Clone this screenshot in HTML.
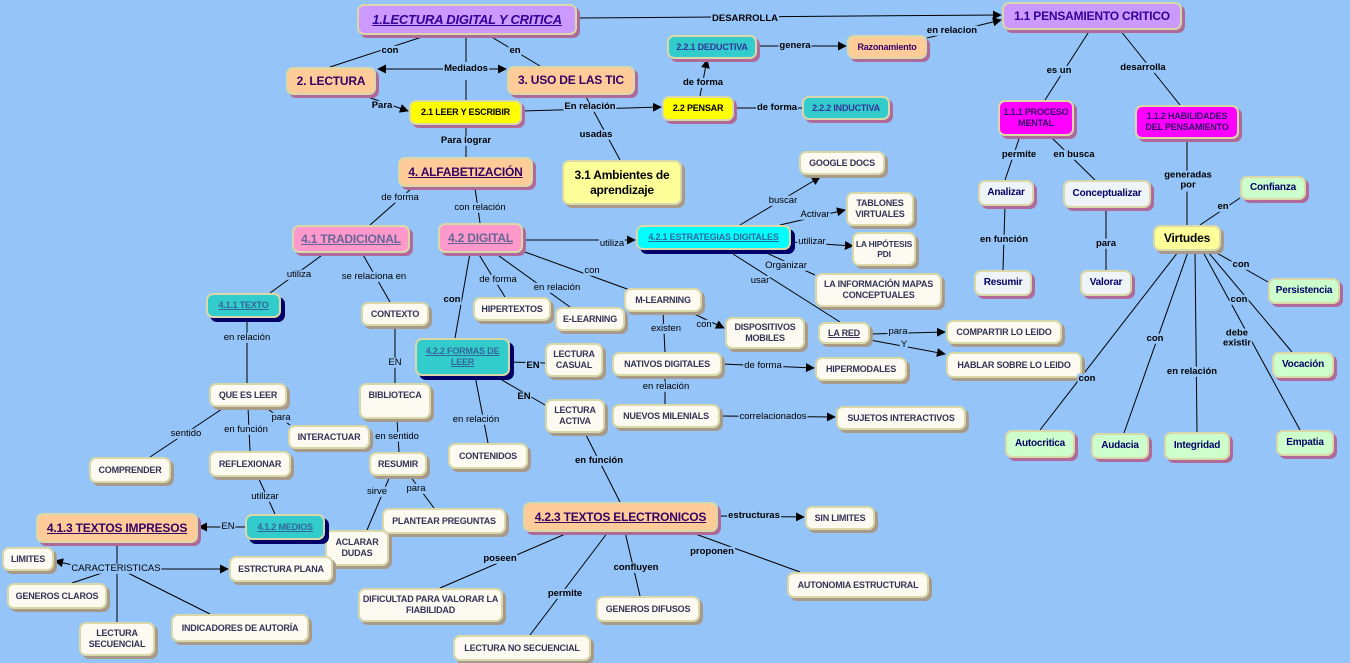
<!DOCTYPE html>
<html><head><meta charset="utf-8"><style>
*{margin:0;padding:0;box-sizing:border-box}
body{width:1350px;height:663px;background:#94c4f8;position:relative;overflow:hidden;font-family:"Liberation Sans",sans-serif}
svg{position:absolute;left:0;top:0}
.n{position:absolute;display:flex;align-items:center;justify-content:center;text-align:center;border:2px solid #d8d8a8;border-radius:7px;font-size:9px;font-weight:bold;color:#333355;line-height:1.2;background:#fdfaf2;box-shadow:3px 3px 0 #a89a8a;letter-spacing:-0.2px}
.pu{background:#cc99ff;color:#330099;box-shadow:3px 3px 0 #b06a9a;font-size:13px}
.pe{background:#ffcc99;color:#330066;box-shadow:3px 3px 0 #b06a9a;font-size:12px}
.ye{background:#ffff00;color:#000;box-shadow:3px 3px 0 #b06a9a}
.ly{background:#ffff99;color:#000;box-shadow:3px 3px 0 #a89a8a;font-size:12px}
.te{background:#33cccc;color:#333399;box-shadow:3px 3px 0 #b06a9a}
.td{background:#33cccc;color:#336699;box-shadow:4px 4px 0 #000066}
.cy{background:#00ffff;color:#336699;box-shadow:4px 4px 0 #000066}
.pk{background:#ff99cc;color:#666699;box-shadow:3px 3px 0 #b06a9a;font-size:12px}
.mg{background:#ff00ff;color:#330066;box-shadow:3px 3px 0 #b06a9a}
.gr{background:#ccffcc;color:#000066;box-shadow:3px 3px 0 #b06a9a;font-size:10px}
.wb{background:#eef4f8;color:#000066;box-shadow:3px 3px 0 #b06a9a;font-size:10px}
.u{text-decoration:underline}
.l{position:absolute;transform:translate(-50%,-50%);background:#94c4f8;font-size:9.5px;color:#000;white-space:nowrap;padding:0 1px;line-height:1.1;text-align:center}
.b{font-weight:bold}
</style></head><body>
<svg width="1350" height="663">
<defs><marker id="a" viewBox="0 0 10 10" refX="9" refY="5" markerWidth="9" markerHeight="9" orient="auto"><path d="M0,0L10,5L0,10z" fill="#000"/></marker></defs>
<g stroke="#000" stroke-width="1" fill="none">
<line x1="425" y1="36" x2="330" y2="67"/>
<line x1="466" y1="36" x2="466" y2="62"/><line x1="466" y1="80" x2="466" y2="100"/>
<line x1="466" y1="69" x2="378" y2="69" marker-end="url(#a)"/><line x1="466" y1="69" x2="506" y2="69" marker-end="url(#a)"/>
<line x1="490" y1="36" x2="540" y2="66"/>
<line x1="577" y1="18" x2="1001" y2="15" marker-end="url(#a)"/>
<line x1="365" y1="96" x2="408" y2="111" marker-end="url(#a)"/>
<line x1="522" y1="111" x2="661" y2="107" marker-end="url(#a)"/>
<line x1="585" y1="95" x2="620" y2="160"/>
<line x1="466" y1="125" x2="466" y2="157"/>
<line x1="700" y1="96" x2="707" y2="60" marker-end="url(#a)"/>
<line x1="757" y1="46" x2="846" y2="46" marker-end="url(#a)"/>
<line x1="927" y1="38" x2="1001" y2="20" marker-end="url(#a)"/>
<line x1="734" y1="108" x2="802" y2="108"/>
<line x1="1090" y1="30" x2="1045" y2="100"/><line x1="1120" y1="30" x2="1180" y2="105"/>
<line x1="1020" y1="136" x2="1005" y2="180"/><line x1="1050" y1="136" x2="1095" y2="180"/>
<line x1="1005" y1="206" x2="1003" y2="270"/><line x1="1106" y1="208" x2="1106" y2="270"/>
<line x1="1187" y1="139" x2="1187" y2="225"/>
<line x1="1200" y1="225" x2="1240" y2="198"/>
<line x1="1215" y1="252" x2="1268" y2="282"/><line x1="1208" y1="252" x2="1292" y2="352"/>
<line x1="1203" y1="252" x2="1300" y2="430"/><line x1="1195" y1="252" x2="1197" y2="432"/>
<line x1="1188" y1="252" x2="1124" y2="433"/><line x1="1178" y1="252" x2="1040" y2="430"/>
<line x1="412" y1="188" x2="370" y2="225"/><line x1="475" y1="188" x2="480" y2="223"/>
<line x1="523" y1="240" x2="635" y2="240" marker-end="url(#a)"/>
<line x1="740" y1="225" x2="820" y2="177" marker-end="url(#a)"/>
<line x1="780" y1="225" x2="845" y2="210" marker-end="url(#a)"/>
<line x1="791" y1="242" x2="853" y2="246" marker-end="url(#a)"/>
<line x1="760" y1="250" x2="815" y2="275"/>
<line x1="733" y1="254" x2="840" y2="322"/>
<line x1="870" y1="334" x2="945" y2="332" marker-end="url(#a)"/>
<line x1="870" y1="340" x2="945" y2="354" marker-end="url(#a)"/>
<line x1="478" y1="253" x2="505" y2="297"/><line x1="495" y1="253" x2="570" y2="307"/>
<line x1="525" y1="252" x2="630" y2="290"/><line x1="470" y1="253" x2="455" y2="338"/>
<line x1="663" y1="312" x2="665" y2="352"/>
<line x1="690" y1="312" x2="724" y2="328" marker-end="url(#a)"/>
<line x1="722" y1="364" x2="814" y2="368" marker-end="url(#a)"/>
<line x1="665" y1="376" x2="665" y2="404"/>
<line x1="720" y1="416" x2="835" y2="417" marker-end="url(#a)"/>
<line x1="510" y1="362" x2="545" y2="363"/><line x1="495" y1="376" x2="545" y2="405"/>
<line x1="475" y1="376" x2="488" y2="443"/>
<line x1="585" y1="433" x2="620" y2="502"/>
<line x1="718" y1="516" x2="804" y2="517" marker-end="url(#a)"/>
<line x1="690" y1="532" x2="800" y2="572"/><line x1="625" y1="532" x2="640" y2="596"/>
<line x1="608" y1="532" x2="530" y2="635"/><line x1="570" y1="532" x2="440" y2="588"/>
<line x1="325" y1="253" x2="270" y2="293"/><line x1="362" y1="253" x2="390" y2="302"/>
<line x1="247" y1="318" x2="247" y2="383"/><line x1="395" y1="326" x2="395" y2="383"/>
<line x1="225" y1="407" x2="150" y2="457"/><line x1="248" y1="407" x2="250" y2="451"/>
<line x1="265" y1="407" x2="290" y2="425"/>
<line x1="397" y1="419" x2="399" y2="452"/>
<line x1="410" y1="476" x2="434" y2="508"/><line x1="390" y1="476" x2="367" y2="530"/>
<line x1="258" y1="477" x2="275" y2="514"/>
<line x1="245" y1="527" x2="199" y2="527" marker-end="url(#a)"/>
<line x1="117" y1="543" x2="117" y2="622"/>
<line x1="90" y1="569" x2="55" y2="561" marker-end="url(#a)"/>
<line x1="117" y1="569" x2="228" y2="569" marker-end="url(#a)"/>
<line x1="105" y1="572" x2="72" y2="583"/><line x1="128" y1="573" x2="210" y2="614"/>
</g></svg>

<div class="n pu u" style="left:357px;top:4px;width:220px;height:31px;font-style:italic">1.LECTURA DIGITAL Y CRITICA</div>
<div class="n pe" style="left:286px;top:67px;width:90px;height:28px">2. LECTURA</div>
<div class="n pe" style="left:507px;top:66px;width:128px;height:29px">3. USO DE LAS TIC</div>
<div class="n ye" style="left:409px;top:100px;width:113px;height:25px">2.1 LEER Y ESCRIBIR</div>
<div class="n ye" style="left:662px;top:96px;width:72px;height:25px">2.2 PENSAR</div>
<div class="n te" style="left:667px;top:35px;width:90px;height:24px">2.2.1 DEDUCTIVA</div>
<div class="n pe" style="left:847px;top:35px;width:80px;height:24px;font-size:9px">Razonamiento</div>
<div class="n te" style="left:802px;top:96px;width:88px;height:24px">2.2.2 INDUCTIVA</div>
<div class="n pu" style="left:1002px;top:2px;width:180px;height:28px;font-size:12px">1.1 PENSAMIENTO CRITICO</div>
<div class="n pe u" style="left:398px;top:157px;width:135px;height:30px">4. ALFABETIZACIÓN</div>
<div class="n ly" style="left:562px;top:160px;width:120px;height:45px">3.1 Ambientes de aprendizaje</div>
<div class="n pk u" style="left:292px;top:225px;width:118px;height:28px">4.1 TRADICIONAL</div>
<div class="n pk u" style="left:438px;top:223px;width:85px;height:30px">4.2 DIGITAL</div>
<div class="n cy u" style="left:636px;top:225px;width:155px;height:25px">4.2.1 ESTRATEGIAS DIGITALES</div>
<div class="n" style="left:799px;top:151px;width:86px;height:24px">GOOGLE DOCS</div>
<div class="n" style="left:846px;top:192px;width:68px;height:34px">TABLONES VIRTUALES</div>
<div class="n" style="left:852px;top:232px;width:64px;height:34px;font-size:8.5px">LA HIPÓTESIS<br>PDI</div>
<div class="n" style="left:815px;top:273px;width:127px;height:34px">LA INFORMACIÓN MAPAS CONCEPTUALES</div>
<div class="n td u" style="left:206px;top:293px;width:75px;height:25px">4.1.1 TEXTO</div>
<div class="n" style="left:361px;top:302px;width:68px;height:24px">CONTEXTO</div>
<div class="n" style="left:473px;top:297px;width:78px;height:24px">HIPERTEXTOS</div>
<div class="n" style="left:555px;top:307px;width:70px;height:24px">E-LEARNING</div>
<div class="n" style="left:624px;top:288px;width:78px;height:24px">M-LEARNING</div>
<div class="n" style="left:725px;top:317px;width:80px;height:32px">DISPOSITIVOS MOBILES</div>
<div class="n u" style="left:818px;top:322px;width:52px;height:22px">LA RED</div>
<div class="n" style="left:946px;top:320px;width:116px;height:24px">COMPARTIR LO LEIDO</div>
<div class="n" style="left:946px;top:352px;width:136px;height:26px">HABLAR SOBRE LO LEIDO</div>
<div class="n td u" style="left:415px;top:338px;width:95px;height:38px">4.2.2 FORMAS DE LEER</div>
<div class="n" style="left:545px;top:343px;width:58px;height:34px">LECTURA CASUAL</div>
<div class="n" style="left:612px;top:352px;width:110px;height:24px">NATIVOS DIGITALES</div>
<div class="n" style="left:815px;top:357px;width:92px;height:24px">HIPERMODALES</div>
<div class="n" style="left:612px;top:404px;width:108px;height:24px">NUEVOS MILENIALS</div>
<div class="n" style="left:836px;top:406px;width:130px;height:24px">SUJETOS INTERACTIVOS</div>
<div class="n" style="left:545px;top:399px;width:60px;height:34px">LECTURA ACTIVA</div>
<div class="n" style="left:209px;top:383px;width:78px;height:24px">QUE ES LEER</div>
<div class="n" style="left:359px;top:383px;width:72px;height:36px;align-items:flex-start;padding-top:5px">BIBLIOTECA</div>
<div class="n" style="left:288px;top:425px;width:82px;height:24px">INTERACTUAR</div>
<div class="n" style="left:448px;top:443px;width:80px;height:26px">CONTENIDOS</div>
<div class="n" style="left:89px;top:457px;width:82px;height:26px">COMPRENDER</div>
<div class="n" style="left:209px;top:451px;width:82px;height:26px">REFLEXIONAR</div>
<div class="n" style="left:369px;top:452px;width:58px;height:24px">RESUMIR</div>
<div class="n" style="left:382px;top:508px;width:124px;height:26px">PLANTEAR PREGUNTAS</div>
<div class="n" style="left:325px;top:530px;width:64px;height:36px">ACLARAR DUDAS</div>
<div class="n td u" style="left:245px;top:514px;width:80px;height:26px">4.1.2 MEDIOS</div>
<div class="n pe u" style="left:36px;top:513px;width:162px;height:30px">4.1.3 TEXTOS IMPRESOS</div>
<div class="n" style="left:2px;top:547px;width:52px;height:24px">LIMITES</div>
<div class="n" style="left:229px;top:556px;width:104px;height:26px">ESTRCTURA PLANA</div>
<div class="n" style="left:7px;top:583px;width:100px;height:26px">GENEROS CLAROS</div>
<div class="n" style="left:79px;top:622px;width:76px;height:34px">LECTURA SECUENCIAL</div>
<div class="n" style="left:171px;top:614px;width:138px;height:28px">INDICADORES DE AUTORÍA</div>
<div class="n pe u" style="left:523px;top:502px;width:195px;height:30px">4.2.3 TEXTOS ELECTRONICOS</div>
<div class="n" style="left:805px;top:506px;width:70px;height:24px">SIN LIMITES</div>
<div class="n" style="left:787px;top:572px;width:142px;height:26px">AUTONOMIA ESTRUCTURAL</div>
<div class="n" style="left:358px;top:588px;width:145px;height:34px">DIFICULTAD PARA VALORAR LA FIABILIDAD</div>
<div class="n" style="left:596px;top:596px;width:104px;height:26px">GENEROS DIFUSOS</div>
<div class="n" style="left:453px;top:635px;width:138px;height:26px">LECTURA NO SECUENCIAL</div>
<div class="n mg" style="left:998px;top:100px;width:76px;height:36px">1.1.1 PROCESO MENTAL</div>
<div class="n mg" style="left:1135px;top:105px;width:104px;height:34px">1.1.2 HABILIDADES DEL PENSAMIENTO</div>
<div class="n wb" style="left:978px;top:180px;width:56px;height:26px">Analizar</div>
<div class="n wb" style="left:1063px;top:180px;width:88px;height:28px">Conceptualizar</div>
<div class="n wb" style="left:974px;top:270px;width:58px;height:26px">Resumir</div>
<div class="n wb" style="left:1080px;top:270px;width:52px;height:26px">Valorar</div>
<div class="n ly" style="left:1153px;top:225px;width:68px;height:26px">Virtudes</div>
<div class="n gr" style="left:1240px;top:176px;width:66px;height:24px">Confianza</div>
<div class="n gr" style="left:1268px;top:278px;width:72px;height:26px">Persistencia</div>
<div class="n gr" style="left:1272px;top:352px;width:62px;height:26px">Vocación</div>
<div class="n gr" style="left:1276px;top:430px;width:58px;height:26px">Empatia</div>
<div class="n gr" style="left:1164px;top:432px;width:66px;height:28px">Integridad</div>
<div class="n gr" style="left:1091px;top:433px;width:58px;height:26px">Audacia</div>
<div class="n gr" style="left:1005px;top:430px;width:70px;height:28px">Autocritica</div>

<div class="l b" style="left:390px;top:51px">con</div>
<div class="l b" style="left:515px;top:51px">en</div>
<div class="l b" style="left:466px;top:69px">Mediados</div>
<div class="l b" style="left:745px;top:19px">DESARROLLA</div>
<div class="l b" style="left:382px;top:106px">Para</div>
<div class="l b" style="left:590px;top:107px">En relación</div>
<div class="l b" style="left:596px;top:135px">usadas</div>
<div class="l b" style="left:466px;top:141px">Para lograr</div>
<div class="l b" style="left:703px;top:83px">de forma</div>
<div class="l b" style="left:795px;top:46px">genera</div>
<div class="l b" style="left:952px;top:31px">en relacion</div>
<div class="l b" style="left:777px;top:108px">de forma</div>
<div class="l b" style="left:1059px;top:71px">es un</div>
<div class="l b" style="left:1143px;top:68px">desarrolla</div>
<div class="l b" style="left:1019px;top:155px">permite</div>
<div class="l b" style="left:1074px;top:155px">en busca</div>
<div class="l b" style="left:1004px;top:240px">en función</div>
<div class="l b" style="left:1106px;top:244px">para</div>
<div class="l b" style="left:1188px;top:181px">generadas<br>por</div>
<div class="l b" style="left:1223px;top:207px">en</div>
<div class="l b" style="left:1241px;top:265px">con</div>
<div class="l b" style="left:1239px;top:300px">con</div>
<div class="l b" style="left:1237px;top:339px">debe<br>existir</div>
<div class="l b" style="left:1192px;top:372px">en relación</div>
<div class="l b" style="left:1155px;top:339px">con</div>
<div class="l b" style="left:1087px;top:379px">con</div>
<div class="l" style="left:400px;top:198px">de forma</div>
<div class="l" style="left:480px;top:208px">con relación</div>
<div class="l" style="left:612px;top:244px">utiliza</div>
<div class="l" style="left:783px;top:201px">buscar</div>
<div class="l" style="left:815px;top:215px">Activar</div>
<div class="l" style="left:812px;top:242px">utilizar</div>
<div class="l" style="left:786px;top:266px">Organizar</div>
<div class="l" style="left:760px;top:281px">usar</div>
<div class="l" style="left:898px;top:332px">para</div>
<div class="l" style="left:904px;top:345px">Y</div>
<div class="l" style="left:498px;top:280px">de forma</div>
<div class="l" style="left:557px;top:288px">en relación</div>
<div class="l" style="left:592px;top:271px">con</div>
<div class="l b" style="left:452px;top:300px">con</div>
<div class="l" style="left:666px;top:329px">existen</div>
<div class="l" style="left:704px;top:325px">con</div>
<div class="l" style="left:763px;top:366px">de forma</div>
<div class="l" style="left:666px;top:387px">en relación</div>
<div class="l" style="left:773px;top:417px">correlacionados</div>
<div class="l b" style="left:533px;top:366px">EN</div>
<div class="l b" style="left:524px;top:397px">EN</div>
<div class="l" style="left:476px;top:420px">en relación</div>
<div class="l b" style="left:599px;top:461px">en función</div>
<div class="l b" style="left:754px;top:516px">estructuras</div>
<div class="l b" style="left:712px;top:552px">proponen</div>
<div class="l b" style="left:636px;top:568px">confluyen</div>
<div class="l b" style="left:565px;top:594px">permite</div>
<div class="l b" style="left:500px;top:559px">poseen</div>
<div class="l" style="left:299px;top:275px">utiliza</div>
<div class="l" style="left:374px;top:277px">se relaciona en</div>
<div class="l" style="left:247px;top:338px">en relación</div>
<div class="l" style="left:395px;top:363px">EN</div>
<div class="l" style="left:186px;top:434px">sentido</div>
<div class="l" style="left:246px;top:430px">en función</div>
<div class="l" style="left:281px;top:418px">para</div>
<div class="l" style="left:397px;top:437px">en sentido</div>
<div class="l" style="left:416px;top:489px">para</div>
<div class="l" style="left:377px;top:492px">sirve</div>
<div class="l" style="left:265px;top:497px">utilizar</div>
<div class="l" style="left:228px;top:527px">EN</div>
<div class="l" style="left:116px;top:569px">CARACTERISTICAS</div>
</body></html>
